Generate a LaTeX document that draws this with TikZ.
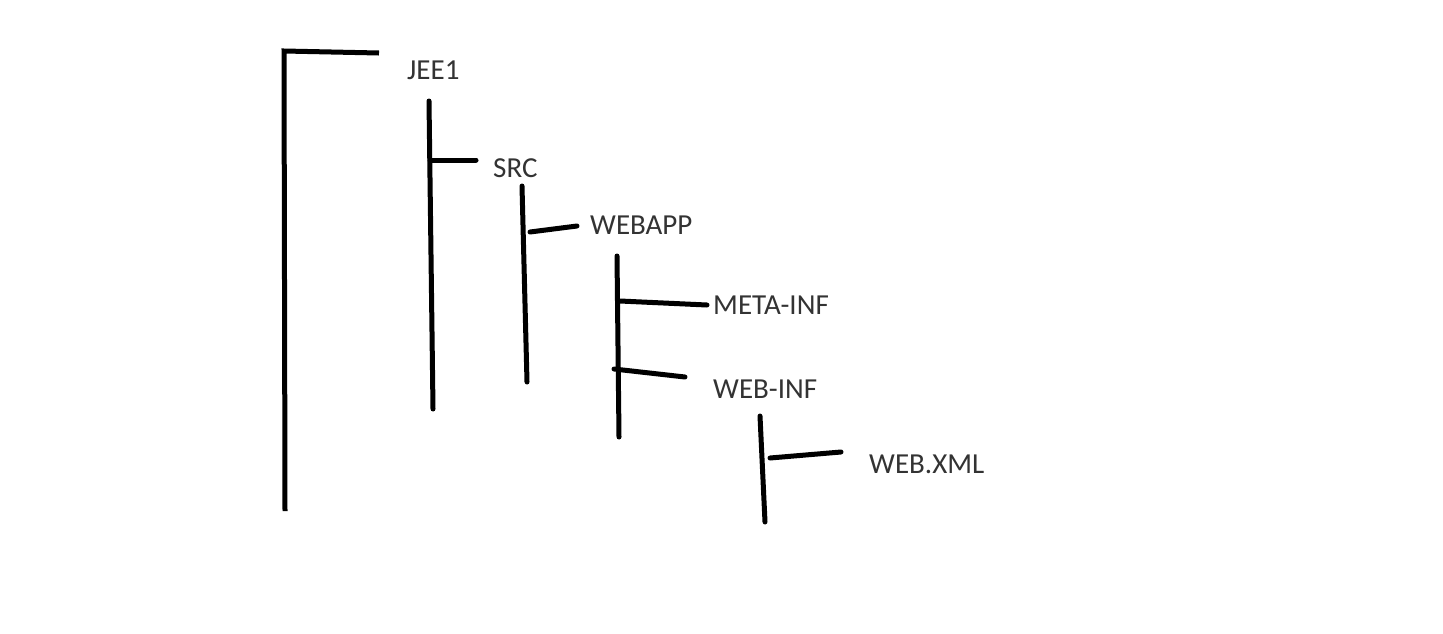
\documentclass[tikz,border=0pt]{standalone}
\usepackage{fontspec}
\setmainfont{Carlito}
\begin{document}
\begin{tikzpicture}[x=1pt,y=-1pt,
  stroke/.style={line width=5pt,line cap=round,black},
  lbl/.style={anchor=base west,inner sep=0pt,text=black!80,font=\fontsize{29}{31}\selectfont}]
\useasboundingbox[fill=white] (0,0) rectangle (1443,633);
% labels
\node[lbl] (jee) at (407,79) {JEE1};
\node[lbl] (src) at (493,177) {SRC};
\node[lbl] (webapp) at (590,234.5) {WEBAPP};
\node[lbl] (meta) at (713,314.5) {META-INF};
\node[lbl] (webinf) at (713,398.5) {WEB-INF};
\node[lbl] (webxml) at (869,473.5) {WEB.XML};
% root bracket
\coordinate (r0) at (285,511);
\coordinate (r1) at (284,51);
\coordinate (r2) at (379,53);
\draw[stroke,line cap=butt] (r0) -- (r1) -- (r2);
% JEE1 children
\coordinate (a0) at (429,101);
\coordinate (a1) at (433,409);
\coordinate (a2) at (430,160);
\coordinate (a3) at (476,160);
\draw[stroke] (a0) -- (a1);
\draw[stroke] (a2) -- (a3);
% SRC children
\coordinate (b0) at (522,186);
\coordinate (b1) at (527,382);
\coordinate (b2) at (530,232);
\coordinate (b3) at (577,226);
\draw[stroke] (b0) -- (b1);
\draw[stroke] (b2) -- (b3);
% WEBAPP children
\coordinate (c0) at (617,256);
\coordinate (c1) at (619,437);
\coordinate (c2) at (620,301);
\coordinate (c3) at (707,305);
\coordinate (c4) at (614,369);
\coordinate (c5) at (685,377);
\draw[stroke] (c0) -- (c1);
\draw[stroke] (c2) -- (c3);
\draw[stroke] (c4) -- (c5);
% WEB-INF children
\coordinate (d0) at (760,416);
\coordinate (d1) at (765,522);
\coordinate (d2) at (770,458);
\coordinate (d3) at (841,452);
\draw[stroke] (d0) -- (d1);
\draw[stroke] (d2) -- (d3);
\end{tikzpicture}
\end{document}
